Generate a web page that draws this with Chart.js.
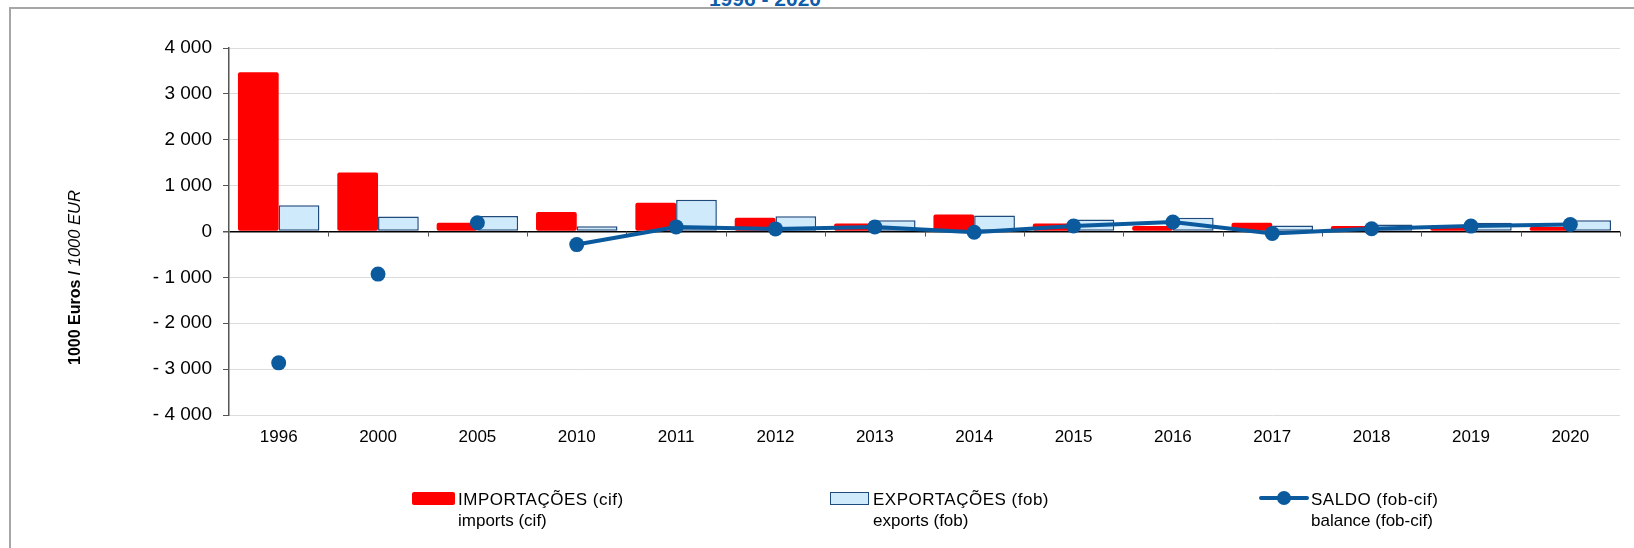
<!DOCTYPE html>
<html>
<head>
<meta charset="utf-8">
<script src="https://cdn.jsdelivr.net/npm/chart.js@4"></script>
<style>
  body { margin: 0; background: #fff; font-family: "Liberation Sans", Arial, sans-serif; }
  #wrap { position: relative; width: 1634px; height: 548px; overflow: hidden; }
  #frame { position: absolute; left: 9px; top: 7px; width: 1700px; height: 600px;
           border-left: 2px solid #a6a6a6; border-top: 2px solid #a6a6a6; }
  #title { position: absolute; left: 765px; top: -12px; transform: translateX(-50%);
           font: bold 21px/21px "Liberation Sans", Arial, sans-serif; color: #0f5ca8; white-space: nowrap; }
  #box { position: absolute; left: 0; top: 0; width: 1634px; height: 548px; }
  .item { position: absolute; top: 489px; font-size: 17px; line-height: 21px; color: #000; white-space: nowrap; }
  .item span { letter-spacing: 0.5px; }
  .sym { position: absolute; }
</style>
</head>
<body>
<div id="wrap">
  <div id="frame"></div>
  <div id="title">1996 - 2020</div>
  <div id="box"><canvas id="chart"></canvas></div>
  <div id="legend"></div>
</div>
<script>
const years = ['1996', '2000', '2005', '2010', '2011', '2012', '2013', '2014', '2015', '2016', '2017', '2018', '2019', '2020'];
const imports = [3470, 1286, 190, 424, 628, 300, 175, 370, 175, 118, 190, 118, 132, 96];
const exportsFob = [570, 329, 338, 117, 694, 335, 245, 350, 260, 300, 132, 154, 190, 243];
const balance = [-2863, -928, 191, -285, 100, 57, 100, -15, 120, 206, -44, 59, 118, 154];
const yTicks = [-4000, -3000, -2000, -1000, 0, 1000, 2000, 3000, 4000];

const labelImports = ['IMPORTAÇÕES (cif)', 'imports (cif)'];
const labelExports = ['EXPORTAÇÕES (fob)', 'exports (fob)'];
const labelBalance = ['SALDO (fob-cif)', 'balance (fob-cif)'];

const RED = '#ff0000';
const PALE = '#cfeafb';
const NAVY = '#1f4a7c';
const BLUE = '#0b5a9e';

Chart.defaults.font.family = '"Liberation Sans", Arial, sans-serif';
Chart.defaults.color = '#000';

// "4 000" style, "- " before negatives
function fmt(v) {
  const s = Math.abs(v).toString().replace(/\B(?=(\d{3})+(?!\d))/g, ' ');
  return v < 0 ? '- ' + s : s;
}

// y axis title, bold part + italic part
const yTitle = {
  id: 'yTitle',
  afterDraw(chart) {
    const ctx = chart.ctx;
    ctx.save();
    ctx.translate(80, 365);
    ctx.rotate(-Math.PI / 2);
    ctx.fillStyle = '#000';
    ctx.textBaseline = 'alphabetic';
    ctx.font = 'bold 16px "Liberation Sans", Arial, sans-serif';
    const a = '1000 Euros / ';
    ctx.fillText(a, 0, 0);
    const w = ctx.measureText(a).width;
    ctx.font = 'italic 16.5px "Liberation Sans", Arial, sans-serif';
    ctx.fillText('1000 EUR', w, 0);
    ctx.restore();
  }
};

// small tick marks under the zero line at category boundaries
const zeroTicks = {
  id: 'zeroTicks',
  beforeDatasetsDraw(chart) {
    const x = chart.scales.x, y = chart.scales.y;
    const y0 = y.getPixelForValue(0);
    const step = x.width / years.length;
    const ctx = chart.ctx;
    ctx.save();
    ctx.strokeStyle = '#555';
    ctx.lineWidth = 1;
    ctx.beginPath();
    for (let i = 1; i <= years.length; i++) {
      const px = Math.round(x.left + i * step) + 0.5;
      ctx.moveTo(px, y0);
      ctx.lineTo(px, y0 + 5);
    }
    ctx.stroke();
    ctx.restore();
  }
};

const chart = new Chart(document.getElementById('chart'), {
  type: 'bar',
  data: {
    labels: years,
    datasets: [
      {
        type: 'line',
        label: labelBalance,
        data: balance,
        borderColor: BLUE,
        backgroundColor: BLUE,
        borderWidth: 4,
        pointRadius: 7.5,
        pointBackgroundColor: BLUE,
        pointBorderWidth: 0,
        fill: false,
        order: 0,
        segment: {
          borderColor: ctx => ctx.p0DataIndex < 3 ? 'rgba(0,0,0,0)' : BLUE
        }
      },
      {
        label: labelImports,
        data: imports,
        backgroundColor: RED,
        borderColor: RED,
        borderWidth: 0,
        borderRadius: 2,
        borderSkipped: false,
        order: 1
      },
      {
        label: labelExports,
        data: exportsFob,
        backgroundColor: PALE,
        borderColor: NAVY,
        borderWidth: 1.5,
        borderSkipped: false,
        order: 2
      }
    ]
  },
  options: {
    responsive: true,
    maintainAspectRatio: false,
    animation: false,
    layout: { padding: { left: 0, top: 48, right: 14, bottom: 103 } },
    datasets: { bar: { categoryPercentage: 0.82, barPercentage: 1 } },
    plugins: {
      legend: { display: false },
      tooltip: { enabled: false },
      title: { display: false }
    },
    scales: {
      x: {
        grid: { display: false, drawTicks: false },
        border: { display: false },
        ticks: { font: { size: 17 }, padding: 12, maxRotation: 0 },
        afterFit: s => { s.height = 30; }
      },
      y: {
        min: -4000,
        max: 4000,
        afterBuildTicks: s => { s.ticks = yTicks.map(v => ({ value: v })); },
        grid: {
          color: c => c.tick && c.tick.value === 0 ? '#000' : '#dcdcdc',
          lineWidth: c => c.tick && c.tick.value === 0 ? 1.5 : 1,
          tickColor: '#555',
          tickLength: 6
        },
        border: { display: true, color: '#555', width: 1.5 },
        ticks: { font: { size: 19 }, padding: 11, callback: v => fmt(v) },
        afterFit: s => { s.width = 229; }
      }
    }
  },
  plugins: [yTitle, zeroTicks]
});

// legend built from the datasets
const legend = document.getElementById('legend');
const spots = [
  { ds: 1, left: 412, text: 458 },
  { ds: 2, left: 830, text: 873 },
  { ds: 0, left: 1259, text: 1311 }
];
spots.forEach(s => {
  const d = chart.data.datasets[s.ds];
  const sym = document.createElement('div');
  sym.className = 'sym';
  if (d.type === 'line') {
    sym.style.cssText = `left:${s.left}px;top:496px;width:50px;height:4px;border-radius:2px;background:${d.borderColor}`;
    const dot = document.createElement('div');
    dot.className = 'sym';
    dot.style.cssText = `left:${s.left + 18}px;top:491px;width:14px;height:14px;border-radius:7px;background:${d.borderColor}`;
    legend.appendChild(dot);
  } else if (d.borderWidth) {
    sym.style.cssText = `left:${s.left}px;top:492px;width:37px;height:11px;background:${d.backgroundColor};border:1.5px solid ${d.borderColor}`;
  } else {
    sym.style.cssText = `left:${s.left}px;top:492px;width:43px;height:13px;border-radius:2px;background:${d.backgroundColor}`;
  }
  legend.insertBefore(sym, legend.firstChild);
  const t = document.createElement('div');
  t.className = 'item';
  t.style.left = s.text + 'px';
  t.innerHTML = '<span>' + d.label[0] + '</span><br>' + d.label[1];
  legend.appendChild(t);
});
</script>
</body>
</html>
